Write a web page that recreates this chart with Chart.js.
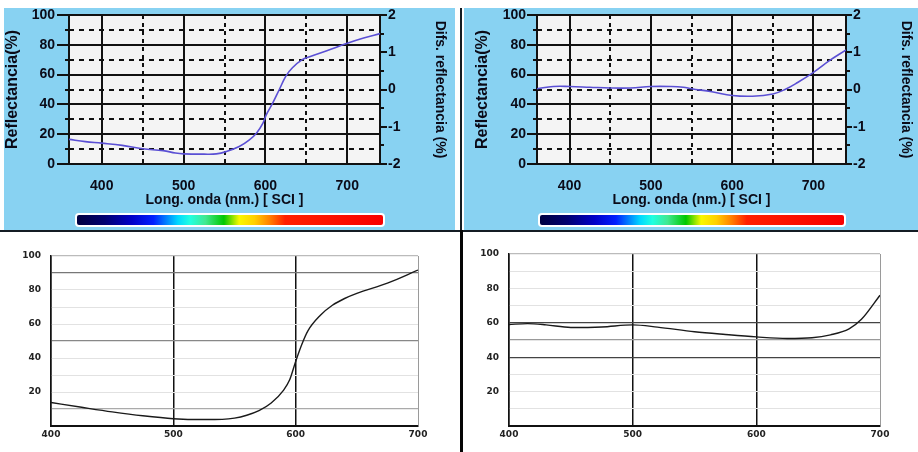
<!DOCTYPE html>
<html>
<head>
<meta charset="utf-8">
<script src="https://cdn.jsdelivr.net/npm/chart.js@4.4.1/dist/chart.umd.min.js"></script>
<style>
html,body{margin:0;padding:0;background:#fff;}
#wrap{position:relative;width:918px;height:452px;overflow:hidden;background:#fff;}
.panel{position:absolute;background:#88d2f2;}
.line{position:absolute;background:#141c24;}
canvas{position:absolute;}
.cbar{position:absolute;height:10px;border:2px solid #fff;border-radius:4px;
  background:linear-gradient(to right,#000040 0%,#000070 9%,#0000c8 18%,#0020ff 25%,#00d8ff 33%,#20ffe0 37%,#40e890 42%,#00c800 48%,#f8f800 53%,#ffd000 58%,#ff8000 63%,#ff2000 68%,#f80000 100%);}
</style>
</head>
<body>
<div id="wrap">
  <div class="panel" style="left:4px;top:8px;width:451px;height:222px;"></div>
  <div class="panel" style="left:464px;top:8px;width:454px;height:222px;"></div>
  <div class="cbar" style="left:75px;top:213px;width:306px;"></div>
  <div class="cbar" style="left:538px;top:213px;width:304px;"></div>
  <div class="line" style="left:0;top:230px;width:918px;height:2px;"></div>
  <div class="line" style="left:460px;top:8px;width:2px;height:224px;"></div>
  <div class="line" style="left:460px;top:230px;width:3px;height:222px;background:#050505;"></div>
  <canvas id="cTL" width="458" height="230" style="left:0;top:0;"></canvas>
  <canvas id="cTR" width="460" height="230" style="left:458px;top:0;"></canvas>
  <canvas id="cBL" width="458" height="220" style="left:0;top:232px;"></canvas>
  <canvas id="cBR" width="456" height="220" style="left:462px;top:232px;"></canvas>
</div>
<script>
// ---- data ----
// top-left spectrum (instrument view)
const wlTopLeft   = [360, 380, 400, 425, 450, 475, 490, 500, 525, 540, 552, 568, 580, 589, 597, 601, 609, 617, 625, 633, 645, 654, 675, 700, 720, 740];
const reflTopLeft = [16.5, 15, 14, 12.5, 10.2, 9, 7.4, 6.8, 6.6, 6.8, 8.3, 11.7, 16, 20.7, 27.5, 33, 41, 50, 59, 64.6, 70, 72, 76, 81, 84.5, 87.5];
// top-right spectrum (instrument view)
const wlTopRight   = [360, 380, 400, 425, 450, 475, 500, 525, 540, 550, 575, 600, 625, 650, 665, 680, 700, 720, 740];
const reflTopRight = [50.5, 52, 52, 51.5, 51, 51, 52, 52, 51.5, 50.5, 48.5, 46, 45.5, 47, 50, 54.5, 61.5, 69.5, 76.5];
// bottom-left curve
const wlBottomLeft   = [400, 425, 450, 475, 500, 525, 540, 550, 560, 570, 580, 590, 595, 600, 605, 610, 620, 630, 640, 650, 675, 700];
const reflBottomLeft = [13.8, 11, 8.3, 6, 4.3, 3.8, 3.9, 4.6, 6.3, 9, 13.5, 21, 27, 38, 48, 56, 65, 71, 75, 78, 84, 91.7];
// bottom-right curve
const wlBottomRight   = [400, 415, 430, 450, 475, 500, 520, 550, 575, 600, 625, 645, 660, 675, 685, 700];
const reflBottomRight = [59, 59.5, 58.8, 57.3, 57.6, 58.8, 57.5, 54.8, 53.2, 51.8, 50.9, 51.3, 53, 56.5, 62, 76];

// tick positions
const xTicksTop      = [400, 500, 600, 700];
const xMinorTicksTop = [450, 550, 650];

const titleX  = 'Long. onda (nm.) [ SCI ]';
const titleY  = 'Reflectancia(%)';
const titleY2 = 'Difs. reflectancia (%)';

// ---- helpers ----
const plotBg = {
  id: 'plotBg',
  beforeDraw(c, a, o) {
    if (!o || !o.color) return;
    const {left, top, width, height} = c.chartArea;
    c.ctx.save(); c.ctx.fillStyle = o.color; c.ctx.fillRect(left, top, width, height); c.ctx.restore();
  }
};
Chart.register(plotBg);

const INK = '#0b0b18';
const FONT = 'Liberation Sans, Arial, sans-serif';
const tickFont = {family: FONT, size: 14, weight: 'bold'};

function pts(xs, ys) { return xs.map((x, i) => ({x: x, y: ys[i]})); }

function topChart(id, xs, ys, L) {
  return new Chart(document.getElementById(id), {
    type: 'line',
    data: {datasets: [{data: pts(xs, ys), borderColor: '#5a4fd4', borderWidth: 1.6, pointRadius: 0, tension: 0.4, xAxisID: 'x', yAxisID: 'y'}]},
    options: {
      responsive: false, animation: false, events: [],
      layout: {padding: {top: 15, left: 0, right: 0, bottom: 0}},
      plugins: {legend: {display: false}, tooltip: {enabled: false}, plotBg: {color: '#f4f4f4'}},
      scales: {
        x: {type: 'linear', position: 'bottom', min: 360, max: 740, weight: 1,
            afterBuildTicks: s => { s.ticks = xTicksTop.map(v => ({value: v})); },
            afterFit: s => { s.height = 66; },
            ticks: {padding: 14, font: tickFont, color: INK, maxRotation: 0, autoSkip: false},
            grid: {color: '#111', lineWidth: 2, drawTicks: false},
            border: {color: '#111', width: 2},
            title: {display: true, text: titleX, color: INK, font: {family: FONT, size: 14, weight: 'bold'}, padding: {top: 0, bottom: 21}}},
        x2: {type: 'linear', position: 'bottom', min: 360, max: 740, weight: 0,
            afterBuildTicks: s => { s.ticks = xMinorTicksTop.map(v => ({value: v})); },
            afterFit: s => { s.height = 0; },
            ticks: {display: false, autoSkip: false},
            grid: {color: '#111', lineWidth: 2, drawTicks: false, borderDash: [4, 4]},
            border: {display: false, dash: [4, 4]}},
        y: {type: 'linear', position: 'left', min: 0, max: 100, weight: 1,
            afterFit: s => { s.width = L.yw; },
            ticks: {stepSize: 20, padding: L.ypad, font: tickFont, color: INK},
            grid: {color: '#111', lineWidth: 2, tickLength: L.ytl},
            border: {color: '#111', width: 2},
            title: {display: true, text: titleY, color: INK, font: {family: FONT, size: 16, weight: 'bold'}, padding: {top: L.ytp, bottom: 0}}},
        y2: {type: 'linear', position: 'left', min: 0, max: 100, weight: 0,
            afterFit: s => { s.width = 0; },
            ticks: {display: false, stepSize: 10},
            grid: {color: '#111', lineWidth: 2, tickLength: 4, borderDash: [5, 5]},
            border: {display: false, dash: [5, 5]}},
        yr: {type: 'linear', position: 'right', min: -2, max: 2, weight: 1,
            afterFit: s => { s.width = L.rw; },
            ticks: {stepSize: 1, padding: 1, font: tickFont, color: INK},
            grid: {drawOnChartArea: false, color: '#111', lineWidth: 2, tickLength: L.rtl},
            border: {color: '#111', width: 2},
            title: {display: true, text: titleY2, color: INK, font: {family: FONT, size: 14, weight: 'bold'}, padding: {top: L.rtp, bottom: 0}}},
        yr2: {type: 'linear', position: 'right', min: -2, max: 2, weight: 0,
            afterFit: s => { s.width = 0; },
            ticks: {display: false, stepSize: 0.5},
            grid: {drawOnChartArea: false, color: '#111', lineWidth: 2, tickLength: 4},
            border: {display: false}}
      }
    }
  });
}

const smallFont = {family: 'DejaVu Sans, sans-serif', size: 9, weight: 'bold'};

function bottomChart(id, xs, ys, L) {
  return new Chart(document.getElementById(id), {
    type: 'line',
    data: {datasets: [{data: pts(xs, ys), borderColor: '#1a1a1a', borderWidth: 1.4, pointRadius: 0, cubicInterpolationMode: 'monotone'}]},
    options: {
      responsive: false, animation: false, events: [],
      layout: {padding: {top: L.top, left: 0, right: L.right, bottom: 0}},
      plugins: {legend: {display: false}, tooltip: {enabled: false}},
      scales: {
        x: {type: 'linear', position: 'bottom', min: 400, max: 700,
            afterFit: s => { s.height = 26; },
            ticks: {stepSize: 100, padding: 3, font: smallFont, color: '#222', maxRotation: 0, autoSkip: false},
            grid: {drawTicks: false,
                   color: c => (c.tick && c.tick.value === 700) ? '#9a9a9a' : '#111',
                   lineWidth: c => (c.tick && c.tick.value === 700) ? 1 : 1.5},
            border: {color: '#111', width: 2}},
        y: {type: 'linear', position: 'left', min: 0, max: 100,
            afterFit: s => { s.width = L.yw; },
            ticks: {stepSize: 10, padding: 10, font: smallFont, color: '#222',
                    callback: v => (v > 0 && v % 20 === 0) ? String(v) : ''},
            grid: {drawTicks: false,
                   color: c => (c.tick && L.gridColors[c.tick.value]) || '#e2e2e2',
                   lineWidth: c => (c.tick && L.gridColors[c.tick.value]) ? 1.3 : 1},
            border: {color: '#111', width: 1.5}}
      }
    }
  });
}

topChart('cTL', wlTopLeft, reflTopLeft, {yw: 69, ytl: 12, ypad: 2, ytp: 3, rw: 78, rtl: 7, rtp: 10});
topChart('cTR', wlTopRight, reflTopRight, {yw: 79, ytl: 10, ypad: 1, ytp: 15, rw: 72, rtl: 6, rtp: 4});
bottomChart('cBL', wlBottomLeft, reflBottomLeft, {top: 24, right: 40, yw: 51,
  gridColors: {10: '#aaaaaa', 50: '#888888', 90: '#777777', 100: '#bbbbbb'}});
bottomChart('cBR', wlBottomRight, reflBottomRight, {top: 22, right: 38, yw: 47,
  gridColors: {40: '#444444', 60: '#444444', 50: '#999999', 100: '#bbbbbb'}});
</script>
</body>
</html>
